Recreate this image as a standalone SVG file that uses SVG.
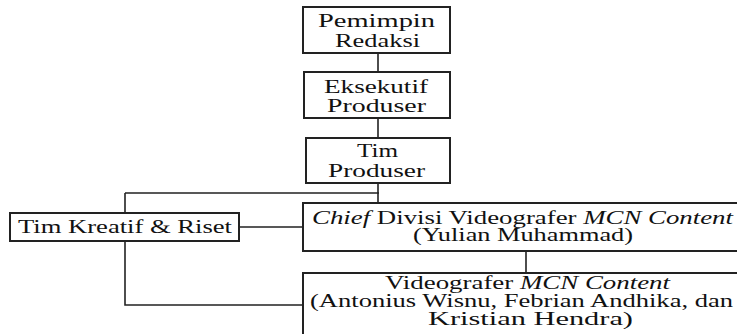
<svg xmlns="http://www.w3.org/2000/svg" width="737" height="334" viewBox="0 0 737 334">
<style>
.box{fill:#fff;stroke:#222;stroke-width:2}
.ln{fill:none;stroke:#222;stroke-width:1.6}
text{font-family:"Liberation Serif","Times New Roman",serif;font-size:19px;fill:#111;text-anchor:middle}
.it{font-style:italic}
</style>
<rect width="737" height="334" fill="#fff"/>
<g id="connectors">
<path class="ln" d="M378 53V72M378 118V138M378 183V203M125 193H379M125 193V305H303M239 227H303M526 251V273"/>
</g>
<g id="pemimpin">
<rect class="box" x="303" y="7" width="147" height="46"/>
<text x="376.5" y="27" textLength="117" lengthAdjust="spacingAndGlyphs">Pemimpin</text>
<text x="377.5" y="47" textLength="85" lengthAdjust="spacingAndGlyphs">Redaksi</text>
</g>
<g id="eksekutif">
<rect class="box" x="304" y="72" width="146" height="46"/>
<text x="376" y="93" textLength="104" lengthAdjust="spacingAndGlyphs">Eksekutif</text>
<text x="376.5" y="112" textLength="99" lengthAdjust="spacingAndGlyphs">Produser</text>
</g>
<g id="timproduser">
<rect class="box" x="306" y="138" width="144" height="45"/>
<text x="377.5" y="157" textLength="41" lengthAdjust="spacingAndGlyphs">Tim</text>
<text x="376.5" y="177" textLength="97" lengthAdjust="spacingAndGlyphs">Produser</text>
</g>
<g id="timkreatif">
<rect class="box" x="10" y="213" width="229" height="28"/>
<text x="125" y="233" textLength="214" lengthAdjust="spacingAndGlyphs">Tim Kreatif &amp; Riset</text>
</g>
<g id="chief">
<rect class="box" x="303" y="203" width="445" height="48"/>
<text x="522.5" y="224" textLength="421" lengthAdjust="spacingAndGlyphs"><tspan class="it">Chief</tspan> Divisi Videografer <tspan class="it">MCN Content</tspan></text>
<text x="523" y="241" textLength="220" lengthAdjust="spacingAndGlyphs">(Yulian Muhammad)</text>
</g>
<g id="videografer">
<rect class="box" x="303" y="273" width="445" height="70"/>
<text x="527.5" y="289" textLength="285" lengthAdjust="spacingAndGlyphs">Videografer <tspan class="it">MCN Content</tspan></text>
<text x="521.5" y="307" textLength="423" lengthAdjust="spacingAndGlyphs">(Antonius Wisnu, Febrian Andhika, dan</text>
<text x="530.5" y="325" textLength="205" lengthAdjust="spacingAndGlyphs">Kristian Hendra)</text>
</g>
</svg>
